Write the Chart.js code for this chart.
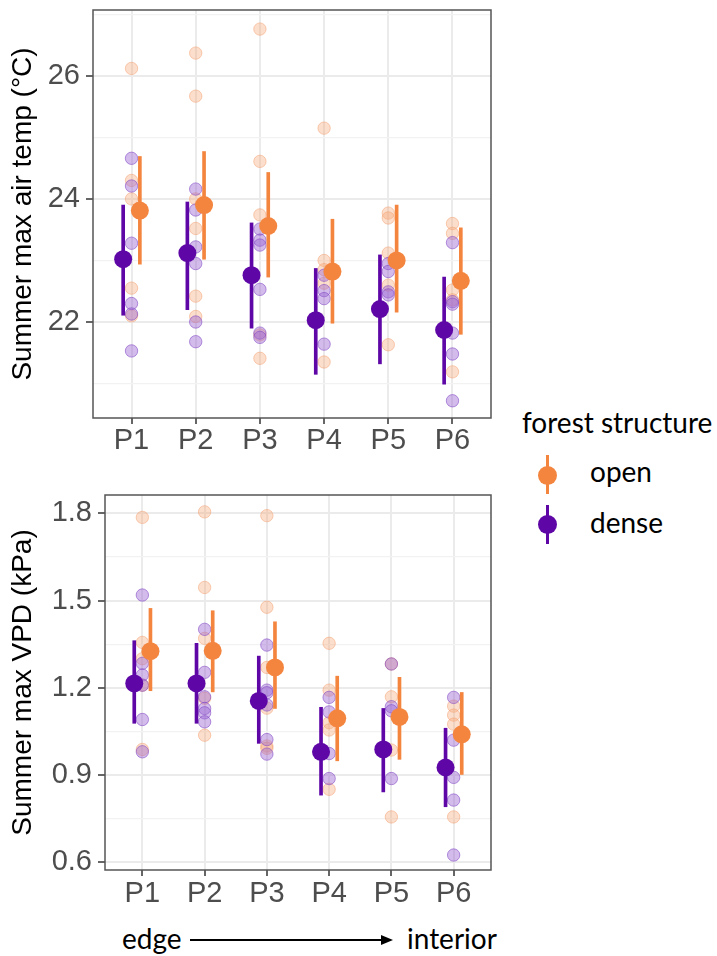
<!DOCTYPE html>
<html>
<head>
<meta charset="utf-8">
<script src="https://cdn.jsdelivr.net/npm/chart.js@4.4.1/dist/chart.umd.min.js"></script>
<style>
    body { margin: 0; background: #fff; }
    #quadro { position: relative; width: 717px; height: 956px; font-family: 'Lato', sans-serif; color: #000; }
    canvas { position: absolute; left: 0; }
    .txt { position: absolute; font-size: 28px; line-height: 34px; white-space: nowrap; }
    .linha { position: absolute; width: 3px; height: 39px; }
    .bola { position: absolute; width: 19px; height: 19px; border-radius: 50%; }
</style>
</head>
<body>
<div id="quadro">
    <canvas id="grafTemp" width="500" height="460" style="top:0"></canvas>
    <canvas id="grafVpd" width="500" height="445" style="top:470px"></canvas>

    <div class="txt" style="left:522px; top:405px">forest structure</div>
    <div class="linha" style="left:546px; top:455px; background:#F4853F"></div>
    <div class="bola" style="left:538px; top:466px; background:#F4853F"></div>
    <div class="txt" style="left:590px; top:454px">open</div>
    <div class="linha" style="left:546px; top:505px; background:#5E06A6"></div>
    <div class="bola" style="left:538px; top:515px; background:#5E06A6"></div>
    <div class="txt" style="left:590px; top:505px">dense</div>

    <div class="txt" style="left:122px; top:921px">edge</div>
    <svg style="position:absolute; left:185px; top:930px" width="215" height="20">
        <line x1="5" y1="10" x2="197" y2="10" stroke="#000" stroke-width="2"/>
        <polygon points="196,5 208,10 196,15" fill="#000"/>
    </svg>
    <div class="txt" style="left:407px; top:921px">interior</div>
</div>

<script>
// categorias (eixo x)
const positions = ['P1', 'P2', 'P3', 'P4', 'P5', 'P6'];

// painel de cima: temperatura maxima do ar (°C)
const tempOpenMean = [23.81, 23.90, 23.56, 22.82, 23.00, 22.67];
const tempOpenLow = [22.94, 23.02, 22.73, 21.98, 22.16, 21.80];
const tempOpenHigh = [24.69, 24.77, 24.43, 23.67, 23.90, 23.53];
const tempDenseMean = [23.02, 23.12, 22.76, 22.03, 22.21, 21.87];
const tempDenseLow = [22.11, 22.20, 21.90, 21.15, 21.32, 20.99];
const tempDenseHigh = [23.90, 23.95, 23.61, 22.87, 23.09, 22.73];
const tempOpenRaw = [
    [26.12, 24.30, 24.00, 22.55, 22.10],
    [26.37, 25.67, 24.00, 23.52, 22.42, 22.09],
    [26.76, 24.61, 23.74, 21.79, 21.41],
    [25.15, 23.00, 22.85, 22.63, 21.35],
    [23.77, 23.69, 23.12, 22.60, 21.63],
    [23.60, 23.44, 22.52, 22.36, 21.19]
];
const tempDenseRaw = [
    [24.66, 24.21, 23.28, 22.30, 22.13, 21.53],
    [24.16, 23.82, 23.22, 22.95, 22.00, 21.68],
    [23.51, 23.33, 23.25, 22.53, 21.82, 21.75],
    [22.76, 22.51, 22.38, 21.64],
    [22.95, 22.82, 22.49, 22.44],
    [23.29, 22.33, 22.29, 21.82, 21.48, 20.72]
];
const tempTicks = [21, 22, 23, 24, 25, 26, 27];
const tempMajor = [22, 24, 26];

// painel de baixo: VPD maximo (kPa)
const vpdOpenMean = [1.326, 1.327, 1.270, 1.095, 1.100, 1.040];
const vpdOpenLow = [1.190, 1.186, 1.129, 0.949, 0.954, 0.902];
const vpdOpenHigh = [1.473, 1.465, 1.427, 1.240, 1.236, 1.184];
const vpdDenseMean = [1.215, 1.215, 1.155, 0.980, 0.988, 0.926];
const vpdDenseLow = [1.078, 1.078, 1.009, 0.831, 0.842, 0.791];
const vpdDenseHigh = [1.362, 1.353, 1.309, 1.133, 1.129, 1.061];
const vpdOpenRaw = [
    [1.786, 1.356, 1.300, 1.209, 0.988],
    [1.805, 1.545, 1.370, 1.164, 1.037],
    [1.792, 1.477, 1.270, 1.130, 1.000, 0.992],
    [1.353, 1.192, 1.080, 1.055, 0.851],
    [1.282, 1.169, 0.986, 0.756],
    [1.137, 1.106, 1.075, 0.756]
];
const vpdDenseRaw = [
    [1.519, 1.284, 1.244, 1.209, 1.091, 0.980],
    [1.401, 1.253, 1.169, 1.129, 1.114, 1.083],
    [1.347, 1.192, 1.183, 1.141, 1.022, 0.972],
    [1.167, 1.117, 0.974, 0.888],
    [1.282, 1.135, 1.121, 0.888],
    [1.167, 1.020, 0.892, 0.814, 0.625]
];
const vpdTicks = [0.6, 0.75, 0.9, 1.05, 1.2, 1.35, 1.5, 1.65, 1.8];
const vpdMajor = [0.6, 0.9, 1.2, 1.5, 1.8];

const corOpen = '#F4853F';
const corDense = '#5E06A6';
const dodge = 0.13;

function pontosRaw(raw) {
    var out = [];
    raw.forEach(function (vals, i) {
        vals.forEach(function (v) { out.push({ x: i + 1, y: v }); });
    });
    return out;
}

function pontosMedia(means, shift) {
    return means.map(function (v, i) { return { x: i + 1 + shift, y: v }; });
}

function barras(low, high, shift) {
    return low.map(function (v, i) { return { x: i + 1 + shift, y: [v, high[i]] }; });
}

// moldura do painel (theme_bw)
const moldura = {
    id: 'moldura',
    afterDatasetsDraw(chart) {
        const a = chart.chartArea;
        const ctx = chart.ctx;
        ctx.save();
        ctx.strokeStyle = '#555555';
        ctx.lineWidth = 1.5;
        ctx.strokeRect(a.left, a.top, a.right - a.left, a.bottom - a.top);
        ctx.restore();
    }
};

function grafico(id, cfg) {
    const data = {
        datasets: [
            { data: pontosRaw(cfg.openRaw), backgroundColor: 'rgba(248,168,120,0.38)', borderColor: 'rgba(242,150,100,0.45)', borderWidth: 1, pointRadius: 6.2, order: 5 },
            { data: pontosRaw(cfg.denseRaw), backgroundColor: 'rgba(150,95,210,0.42)', borderColor: 'rgba(125,65,195,0.55)', borderWidth: 1, pointRadius: 6.2, order: 4 },
            { type: 'bar', data: barras(cfg.openLow, cfg.openHigh, dodge), backgroundColor: corOpen, barThickness: 3, grouped: false, order: 3 },
            { type: 'bar', data: barras(cfg.denseLow, cfg.denseHigh, -dodge), backgroundColor: corDense, barThickness: 3, grouped: false, order: 3 },
            { data: pontosMedia(cfg.openMean, dodge), backgroundColor: corOpen, borderWidth: 0, pointRadius: 9, order: 1 },
            { data: pontosMedia(cfg.denseMean, -dodge), backgroundColor: corDense, borderWidth: 0, pointRadius: 9, order: 1 }
        ]
    };

    const config = {
        type: 'scatter',
        data: data,
        plugins: [moldura],
        options: {
            responsive: false,
            animation: false,
            events: [],
            layout: { padding: { top: cfg.top, right: 9, left: 0, bottom: 0 } },
            plugins: { legend: { display: false }, tooltip: { enabled: false } },
            scales: {
                x: {
                    type: 'linear',
                    min: 0.4,
                    max: 6.6,
                    offset: false,
                    afterBuildTicks: function (s) { s.ticks = positions.map(function (p, i) { return { value: i + 1 }; }); },
                    afterFit: function (s) {
                        s.height = cfg.xHeight;
                        s.paddingLeft = 0;
                        s.paddingRight = 0;
                    },
                    ticks: {
                        callback: function (v, i) { return positions[i]; },
                        color: '#4D4D4D',
                        font: { family: 'Liberation Sans', size: 29 },
                        padding: cfg.xPad,
                        maxRotation: 0,
                        autoSkip: false
                    },
                    grid: { offset: false, color: '#EBEBEB', lineWidth: 2, tickColor: '#333333', tickWidth: 1.5, tickLength: 6 },
                    border: { display: false }
                },
                y: {
                    type: 'linear',
                    min: cfg.min,
                    max: cfg.max,
                    afterBuildTicks: function (s) { s.ticks = cfg.ticks.map(function (v) { return { value: v }; }); },
                    afterFit: function (s) {
                        s.width = cfg.yWidth;
                        s.paddingTop = 0;
                        s.paddingBottom = 0;
                    },
                    ticks: {
                        callback: function (v) { return cfg.major.indexOf(v) >= 0 ? cfg.fmt(v) : ''; },
                        color: '#4D4D4D',
                        font: { family: 'Liberation Sans', size: 29 },
                        padding: 6,
                        autoSkip: false
                    },
                    grid: {
                        color: function (c) { return cfg.major.indexOf(c.tick.value) >= 0 ? '#EBEBEB' : '#F2F2F2'; },
                        lineWidth: function (c) { return cfg.major.indexOf(c.tick.value) >= 0 ? 2 : 1.3; },
                        tickColor: function (c) { return cfg.major.indexOf(c.tick.value) >= 0 ? '#333333' : 'rgba(0,0,0,0)'; },
                        tickWidth: 1.5,
                        tickLength: 7
                    },
                    title: {
                        display: true,
                        text: cfg.title,
                        color: '#000',
                        font: { family: 'Liberation Sans', size: 28 },
                        padding: { top: 6, bottom: 0 }
                    },
                    border: { display: false }
                }
            }
        }
    };

    return new Chart(document.getElementById(id), config);
}

grafico('grafTemp', {
    openMean: tempOpenMean, openLow: tempOpenLow, openHigh: tempOpenHigh, openRaw: tempOpenRaw,
    denseMean: tempDenseMean, denseLow: tempDenseLow, denseHigh: tempDenseHigh, denseRaw: tempDenseRaw,
    ticks: tempTicks, major: tempMajor, fmt: function (v) { return String(v); },
    min: 20.44, max: 27.07, title: 'Summer max air temp (°C)',
    top: 10, xHeight: 42, xPad: 0, yWidth: 93
});

grafico('grafVpd', {
    openMean: vpdOpenMean, openLow: vpdOpenLow, openHigh: vpdOpenHigh, openRaw: vpdOpenRaw,
    denseMean: vpdDenseMean, denseLow: vpdDenseLow, denseHigh: vpdDenseHigh, denseRaw: vpdDenseRaw,
    ticks: vpdTicks, major: vpdMajor, fmt: function (v) { return v.toFixed(1); },
    min: 0.5735, max: 1.863, title: 'Summer max VPD (kPa)',
    top: 25, xHeight: 45, xPad: 1, yWidth: 105
});
</script>
</body>
</html>
